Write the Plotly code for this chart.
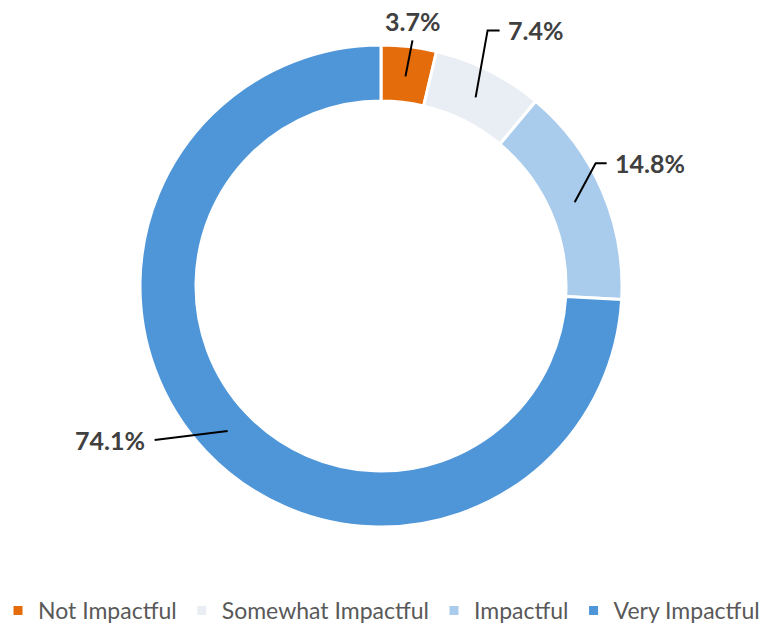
import math
import plotly.graph_objects as go

# data
categories = ["Not Impactful", "Somewhat Impactful", "Impactful", "Very Impactful"]
shares = [3.7, 7.4, 14.8, 74.1]
colors = ["#E46C0A", "#E9EDF4", "#A9CBEC", "#4F96D9"]

W, H = 763, 632
CX, CY, R_OUT, R_IN = 381, 286, 241, 185

# leader line styling: elbow offset from slice point, horizontal tail, text anchor
elbows = [(7, -36), (12, -67), (21, -39), (-73, 9)]
tails = [0, 12, 11, 0]
anchors = [("center", "bottom"), ("left", "middle"), ("left", "middle"), ("right", "middle")]

fig = go.Figure()
fig.add_trace(go.Pie(
    labels=categories, values=shares, sort=False, direction="clockwise", rotation=0,
    hole=R_IN / R_OUT, textinfo="none", hoverinfo="label+percent",
    marker=dict(colors=colors, line=dict(color="white", width=3)),
    domain=dict(x=[(CX - R_OUT) / W, (CX + R_OUT) / W],
                y=[1 - (CY + R_OUT) / H, 1 - (CY - R_OUT) / H]),
))

total = sum(shares)
cum = 0
r_mid = (R_OUT + R_IN) / 2 - 2
for i, v in enumerate(shares):
    ang = math.radians((cum + v / 2) / total * 360)
    cum += v
    x0 = CX + r_mid * math.sin(ang)
    y0 = CY - r_mid * math.cos(ang)
    x1, y1 = x0 + elbows[i][0], y0 + elbows[i][1]
    x2 = x1 + tails[i]
    fig.add_shape(type="path", path=f"M{x0},{y0} L{x1},{y1} L{x2},{y1}",
                  xref="x", yref="y", layer="above",
                  line=dict(color="black", width=2))
    xa, ya = anchors[i]
    if xa == "center":
        tx, ty = x2, y1 - 2
    elif xa == "left":
        tx, ty = x2 + 6, y1
    else:
        tx, ty = x2 - 8, y1
    fig.add_annotation(x=tx, y=ty, xref="x", yref="y", text=f"<b>{v:.1f}%</b>",
                       showarrow=False, xanchor=xa, yanchor=ya,
                       font=dict(family="Lato, Open Sans, sans-serif", size=25, color="#404040"))

fig.update_layout(
    width=W, height=H, margin=dict(l=0, r=0, t=0, b=0),
    paper_bgcolor="white", plot_bgcolor="rgba(0,0,0,0)",
    xaxis=dict(range=[0, W], visible=False, domain=[0, 1], fixedrange=True),
    yaxis=dict(range=[H, 0], visible=False, domain=[0, 1], fixedrange=True),
    legend=dict(orientation="h", x=0.5, xanchor="center", y=0, yanchor="bottom",
                font=dict(family="Lato, Open Sans, sans-serif", size=23, color="#595959"),
                itemclick=False, tracegroupgap=0),
    showlegend=True,
)

fig.write_html("out.html", config={"displayModeBar": False},
               post_script="document.body.style.margin='0';")
